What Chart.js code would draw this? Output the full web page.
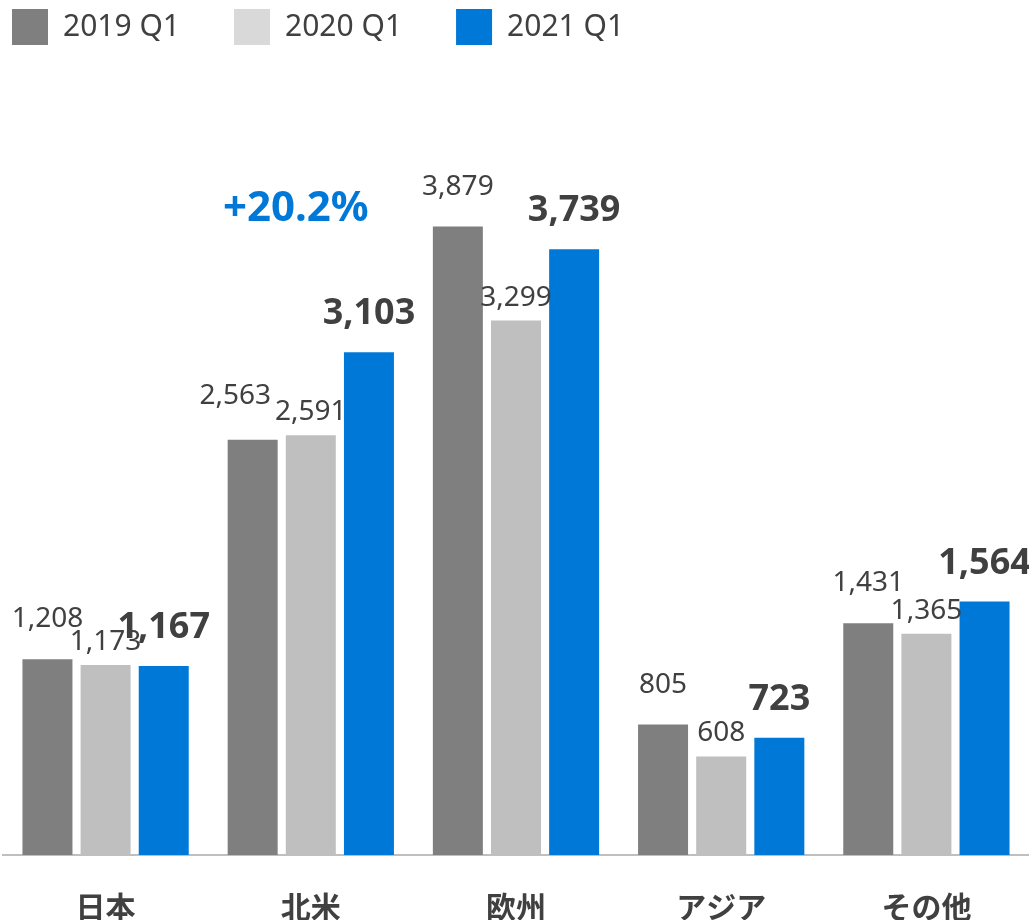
<!DOCTYPE html>
<html>
<head>
<meta charset="utf-8">
<script src="https://cdn.jsdelivr.net/npm/chart.js@4.4.1/dist/chart.umd.min.js"></script>
<style>
	html, body { margin: 0; padding: 0; background: #fff; }
	#wrap { width: 1029px; height: 920px; }
</style>
</head>
<body>
<div id="wrap"><canvas id="myChart"></canvas></div>
<script>
// regions and quarterly values
var regions = ["日本", "北米", "欧州", "アジア", "その他"];
var seriesNames = ["2019 Q1", "2020 Q1", "2021 Q1"];
var q2019 = [1208, 2563, 3879, 805, 1431];
var q2020 = [1173, 2591, 3299, 608, 1365];
var q2021 = [1167, 3103, 3739, 723, 1564];
var growthNote = "+20.2%";

var barColors = ["#7f7f7f", "#bfbfbf", "#0078d7"];
var legendColors = ["#7f7f7f", "#d9d9d9", "#0078d7"];
var textColor = "#404040";
var fontFamily = "'Noto Sans', 'Noto Sans CJK JP', sans-serif";

function fmt(v) {
	return v.toLocaleString('en-US');
}

// value labels above each bar, pushed left if they bump into the next one
const valueLabels = {
	id: 'valueLabels',
	afterDatasetsDraw(chart) {
		const ctx = chart.ctx;
		const lifts = [32, 15, 28];
		const boxes = [];
		chart.data.datasets.forEach((ds, di) => {
			const meta = chart.getDatasetMeta(di);
			meta.data.forEach((bar, i) => {
				const bold = di === 2;
				ctx.font = (bold ? 'bold 36px ' : '28px ') + fontFamily;
				const text = fmt(ds.data[i]);
				const w = ctx.measureText(text).width;
				const h = bold ? 26 : 21;
				boxes.push({di, i, text, bold, x: bar.x, y: bar.y - lifts[di], w, h});
			});
		});
		// simple overlap check between 2019 and 2020 labels in a group
		for (const a of boxes) {
			if (a.di !== 0) continue;
			const b = boxes.find(o => o.di === 1 && o.i === a.i);
			const overlapX = (a.x + a.w / 2) - (b.x - b.w / 2) + 4;
			const overlapY = Math.abs(a.y - b.y) < a.h;
			if (overlapX > 0 && overlapY) {
				a.x -= overlapX;
				a.y -= 4;
			}
		}
		ctx.save();
		ctx.fillStyle = textColor;
		ctx.textAlign = 'center';
		ctx.textBaseline = 'alphabetic';
		for (const b of boxes) {
			ctx.font = (b.bold ? 'bold 36px ' : '28px ') + fontFamily;
			ctx.fillText(b.text, b.x, b.y);
		}
		// growth note over 北米
		const xs = chart.scales.x;
		const ys = chart.scales.y;
		ctx.font = 'bold 42px ' + fontFamily;
		ctx.fillStyle = "#0078d7";
		ctx.textBaseline = 'middle';
		ctx.fillText(growthNote, xs.getPixelForValue(1) - 15, ys.getPixelForValue(3990));
		ctx.restore();
	}
};

new Chart(document.getElementById('myChart'), {
	type: 'bar',
	data: {
		labels: regions,
		datasets: [
			{label: seriesNames[0], data: q2019, backgroundColor: barColors[0]},
			{label: seriesNames[1], data: q2020, backgroundColor: barColors[1]},
			{label: seriesNames[2], data: q2021, backgroundColor: barColors[2]}
		]
	},
	options: {
		responsive: true,
		maintainAspectRatio: false,
		animation: false,
		layout: {
			padding: {left: 3, right: 0, top: 0, bottom: -39}
		},
		datasets: {
			bar: {
				categoryPercentage: 0.85,
				barPercentage: 0.86
			}
		},
		scales: {
			x: {
				grid: {display: false, drawTicks: false},
				border: {display: true, color: '#bfbfbf', width: 2},
				ticks: {
					color: textColor,
					padding: 34,
					font: {family: "'Noto Sans CJK JP', sans-serif", size: 30, weight: 'bold'}
				}
			},
			y: {
				display: false,
				min: 0,
				max: 4938
			}
		},
		plugins: {
			tooltip: {enabled: false},
			legend: {
				display: true,
				position: 'top',
				align: 'start',
				labels: {
					boxWidth: 36,
					boxHeight: 36,
					padding: 9,
					color: textColor,
					font: {family: fontFamily, size: 30},
					generateLabels: function(chart) {
						return chart.data.datasets.map((ds, i) => ({
							text: ds.label + '\u2003\u2002',
							fillStyle: legendColors[i],
							strokeStyle: legendColors[i],
							lineWidth: 0,
							fontColor: textColor,
							datasetIndex: i
						}));
					}
				}
			}
		}
	},
	plugins: [valueLabels]
});
</script>
</body>
</html>
